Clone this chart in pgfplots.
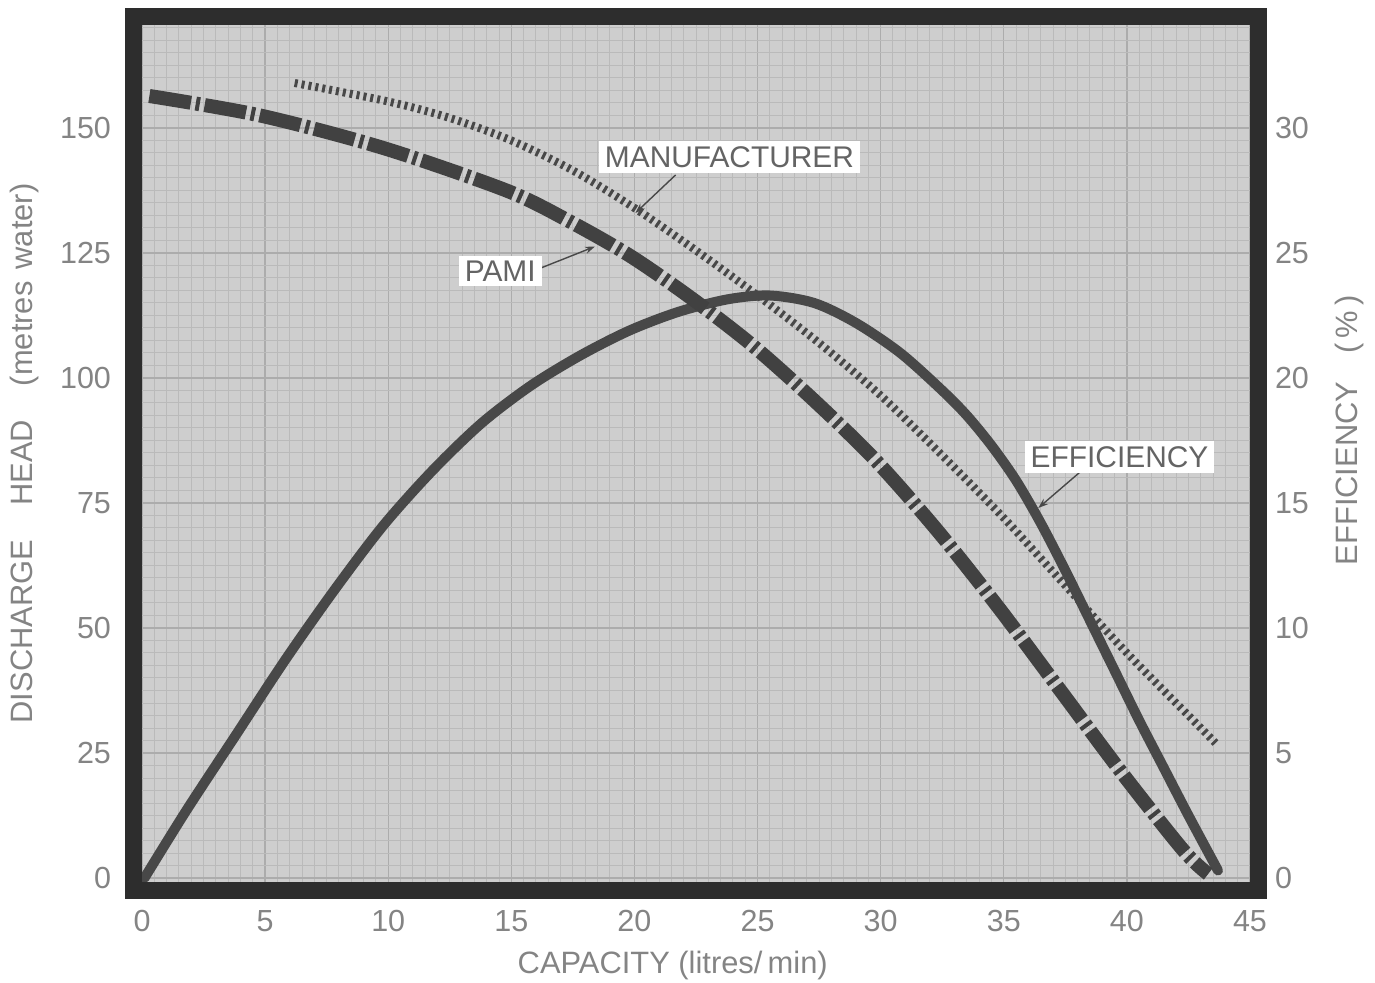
\documentclass[border=0pt]{standalone}
\usepackage{fontspec}
\setmainfont{Liberation Sans}
\usepackage{pgfplots}
\pgfplotsset{compat=1.18}
\usetikzlibrary{arrows.meta}

\definecolor{paper}{RGB}{206,206,206}
\definecolor{gridc}{RGB}{186,186,186}
\definecolor{gridmaj}{RGB}{172,172,172}
\definecolor{framec}{RGB}{45,45,45}
\definecolor{ink}{RGB}{72,72,72}
\definecolor{txt}{RGB}{132,132,132}
\definecolor{boxtxt}{RGB}{100,100,100}

\begin{document}
\begin{tikzpicture}
\path[use as bounding box] (-71bp,-50.5bp) rectangle (616.5bp,441bp);

\pgfplotsset{
  every axis/.append style={
    scale only axis, width=554bp, height=428.5bp,
    at={(0,0)}, anchor=south west,
    xmin=0, xmax=45,
    major tick length=0pt, minor tick length=0pt,
    tick label style={font=\fontsize{15.3}{18}\selectfont, text=txt},
    label style={font=\fontsize{15.5}{18}\selectfont, text=txt},
    /pgf/number format/assume math mode=true,
    axis line style={draw=none},
  }
}

%% efficiency axis: background, grid, right scale
\begin{axis}[
    ymin=-0.16, ymax=34.12,
    xtick={0,5,...,45}, ytick={0,5,...,35},
    minor x tick num=9, minor y tick num=9,
    grid=both,
    minor grid style={gridc, line width=0.5bp},
    major grid style={gridmaj, line width=0.7bp},
    axis background/.style={fill=paper},
    yticklabel pos=right,
    xticklabel style={yshift=-10.5bp},
    yticklabel style={xshift=9bp},
    xlabel={CAPACITY (litres/\,min)},
    xlabel style={at={(axis description cs:0.479,-0.097)}, anchor=center},
    ylabel={EFFICIENCY\hspace{14bp}(\,\%\,)},
    ylabel style={at={(axis description cs:1.09,0.527)}, anchor=center},
]
\addplot[ink, line width=5bp, smooth, line cap=round] coordinates {
    (0.1,0) (1.8,2.7) (3.8,5.7) (5.8,8.7) (7.8,11.5) (9.8,14.1)
    (11.8,16.3) (13.8,18.2) (15.8,19.7) (17.8,20.9) (19.8,21.9)
    (21.8,22.65) (23.8,23.15) (25.5,23.3) (27.3,23.0) (29.0,22.2)
    (30.8,21.0) (32.5,19.5) (33.5,18.5) (34.5,17.3) (35.5,15.9)
    (36.5,14.2) (37.5,12.3) (38.5,10.3) (39.5,8.3) (40.5,6.3)
    (41.5,4.4) (42.5,2.5) (43.7,0.3)
};
\end{axis}

%% discharge head axis: left scale, head curves, callouts
\begin{axis}[
    ymin=-0.8, ymax=170.6,
    xtick=\empty, ytick={0,25,...,150},
    yticklabel style={xshift=-12bp},
    ylabel={DISCHARGE\hspace{17bp}HEAD\hspace{17bp}(metres\hspace{6bp}water)},
    ylabel style={at={(axis description cs:-0.1056,0.5)}, anchor=center},
]
%% manufacturer
\addplot[ink, line width=4bp, smooth,
    dash pattern=on 1.5bp off 2bp] coordinates {
    (6.2,159) (10,155.3) (12.5,152) (15,147.5) (17.5,141.5) (20,134)
    (22.5,125.5) (25,116.5) (27.5,107) (30,96.5) (32.5,84.5) (35,72)
    (37.5,58.5) (40,45) (42.5,32.5) (43.6,27)
};
%% PAMI
\addplot[ink!90!black, line width=7bp, smooth,
    dash pattern=on 21bp off 2.5bp on 2bp off 2.5bp] coordinates {
    (0.3,156.4) (4.8,152.5) (9.8,146) (14.8,137.5) (17.3,131.5)
    (19.8,124.5) (22.3,116) (24.8,106.5) (27.3,95.5) (29.8,83.5)
    (32.3,69.5) (34.8,54) (37.3,37.5) (39.8,21) (42.3,5.5) (43.3,0.8)
};

\draw[ink, line width=0.7bp, -{Stealth[length=5bp,width=3.5bp]}]
    (axis cs:21.67,140.6) -- (axis cs:20.04,133);
\draw[ink, line width=0.7bp, -{Stealth[length=5bp,width=3.5bp]}]
    (axis cs:16.2,122) -- (axis cs:18.4,126.3);
\draw[ink, line width=0.7bp, -{Stealth[length=5bp,width=3.5bp]}]
    (axis cs:38.1,81.2) -- (axis cs:36.4,74);

\node[fill=white, text=boxtxt, inner xsep=3bp, inner ysep=2.5bp,
    font=\fontsize{15}{18}\selectfont] at (axis cs:23.86,144.2) {MANUFACTURER};
\node[fill=white, text=boxtxt, inner xsep=3bp, inner ysep=2.5bp,
    font=\fontsize{15}{18}\selectfont] at (axis cs:14.55,121.4) {PAMI};
\node[fill=white, text=boxtxt, inner xsep=3bp, inner ysep=2.5bp,
    font=\fontsize{15}{18}\selectfont] at (axis cs:39.7,84.2) {EFFICIENCY};
\end{axis}

%% heavy frame round the plot area
\draw[framec, line width=8.5bp, line join=miter]
    (-4.25bp,-4.25bp) rectangle (558.25bp,432.75bp);
\end{tikzpicture}
\end{document}
